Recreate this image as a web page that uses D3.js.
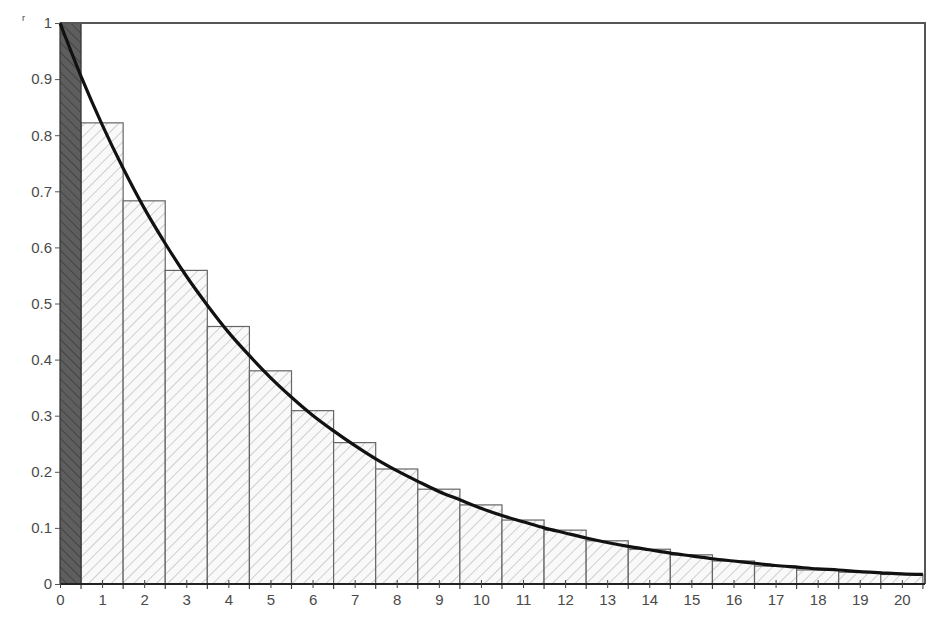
<!DOCTYPE html>
<html>
<head>
<meta charset="utf-8">
<script src="https://cdn.jsdelivr.net/npm/d3@7"></script>
<style>
  body { margin: 0; background: #fff; }
  .tick text { font-family: Arial, "Liberation Sans", sans-serif; font-size: 15px; fill: #4a4a4a; }
</style>
</head>
<body>
<div class="chart"></div>
<script>
// bar values at x = 1..20
var barX = [1,2,3,4,5,6,7,8,9,10,11,12,13,14,15,16,17,18,19,20];
var barY = [0.822,0.683,0.559,0.459,0.380,0.309,0.252,0.205,0.169,0.141,
            0.114,0.096,0.077,0.062,0.052,0.041,0.032,0.025,0.021,0.017];

// first (dark) bar from 0 to 0.5
var firstBar = {x0: 0, x1: 0.5, y: 1};

// curve samples
var curveX = [0,0.5,1,1.5,2,2.5,3,3.5,4,4.5,5,5.5,6,6.5,7,7.5,8,8.5,9,9.5,10,
              10.5,11,11.5,12,12.5,13,13.5,14,14.5,15,15.5,16,16.5,17,17.5,18,18.5,19,19.5,20,20.5];
var curveY = [1.0,0.905,0.819,0.741,0.670,0.607,0.549,0.497,0.449,0.407,0.368,
              0.333,0.301,0.273,0.247,0.223,0.202,0.183,0.165,0.150,0.135,
              0.122,0.111,0.100,0.091,0.082,0.074,0.067,0.061,0.055,0.050,
              0.045,0.041,0.037,0.033,0.030,0.027,0.025,0.022,0.020,0.018,0.017];

var xTicks = d3.range(0, 21);
var yTicks = [0,0.1,0.2,0.3,0.4,0.5,0.6,0.7,0.8,0.9,1];

var svgWidth = 942, svgHeight = 619;
var margin = {top: 23, right: 17, bottom: 35, left: 60};
var width = svgWidth - margin.left - margin.right;
var height = svgHeight - margin.top - margin.bottom;

var svg = d3.select(".chart").append("svg")
    .attr("width", svgWidth).attr("height", svgHeight);

var defs = svg.append("defs");
defs.append("pattern")
    .attr("id", "hatch").attr("patternUnits", "userSpaceOnUse")
    .attr("width", 8).attr("height", 8)
    .attr("patternTransform", "rotate(45)")
  .call(p => {
      p.append("rect").attr("width", 8).attr("height", 8).attr("fill", "#f9f9f9");
      p.append("line").attr("x1", 0).attr("y1", 0).attr("x2", 0).attr("y2", 8)
        .attr("stroke", "#bdbdbd").attr("stroke-width", 1.4);
  });
defs.append("pattern")
    .attr("id", "hatchDark").attr("patternUnits", "userSpaceOnUse")
    .attr("width", 7).attr("height", 7)
    .attr("patternTransform", "rotate(-45)")
  .call(p => {
      p.append("rect").attr("width", 7).attr("height", 7).attr("fill", "#5e5e5e");
      p.append("line").attr("x1", 0).attr("y1", 0).attr("x2", 0).attr("y2", 7)
        .attr("stroke", "#444").attr("stroke-width", 2);
  });

var chartGroup = svg.append("g")
    .attr("transform", `translate(${margin.left}, ${margin.top})`);

var x = d3.scaleLinear().domain([0, 20.55]).range([0, width]);
var y = d3.scaleLinear().domain([0, 1]).range([height, 0]);

// bars
chartGroup.selectAll("rect.bar")
    .data(barX)
    .enter().append("rect")
    .attr("class", "bar")
    .attr("x", (d, i) => x(d - 0.5))
    .attr("y", (d, i) => y(barY[i]))
    .attr("width", x(1) - x(0))
    .attr("height", (d, i) => y(0) - y(barY[i]))
    .attr("fill", "url(#hatch)")
    .attr("stroke", "#666")
    .attr("stroke-width", 1.2);

// bar edges extend below the axis
chartGroup.selectAll("line.edge")
    .data(barX.map(d => d - 0.5).concat([20.5]))
    .enter().append("line")
    .attr("x1", d => x(d)).attr("x2", d => x(d))
    .attr("y1", y(0)).attr("y2", y(0) + 5)
    .attr("stroke", "#444").attr("stroke-width", 1.2);

chartGroup.append("rect")
    .attr("x", x(firstBar.x0)).attr("y", y(firstBar.y))
    .attr("width", x(firstBar.x1) - x(firstBar.x0))
    .attr("height", y(0) - y(firstBar.y))
    .attr("fill", "url(#hatchDark)")
    .attr("stroke", "#333").attr("stroke-width", 1.2);

// frame
chartGroup.append("path")
    .attr("d", `M${x(0)},${y(1)}H${width}V${y(0)}`)
    .attr("fill", "none").attr("stroke", "#555").attr("stroke-width", 2);

// curve
var line = d3.line()
    .x((d, i) => x(curveX[i]))
    .y(d => y(d))
    .curve(d3.curveMonotoneX);

chartGroup.append("path")
    .datum(curveY)
    .attr("d", line)
    .attr("fill", "none")
    .attr("stroke", "#111")
    .attr("stroke-width", 3.2);

// axes
var bottomAxis = d3.axisBottom(x).tickValues(xTicks).tickSize(4).tickPadding(6)
    .tickFormat(d3.format("d"));
var gx = chartGroup.append("g")
    .attr("transform", `translate(0, ${height})`)
    .call(bottomAxis);
gx.select(".domain").attr("d", `M0,0H${width}`).attr("stroke", "#222").attr("stroke-width", 2);
gx.selectAll(".tick line").attr("y1", -4).attr("stroke", "#444");

var leftAxis = d3.axisLeft(y).tickValues(yTicks).tickSize(5).tickPadding(3)
    .tickFormat(d => d === 0 || d === 1 ? d3.format("d")(d) : d3.format(".1f")(d));
var gy = chartGroup.append("g").call(leftAxis);
gy.select(".domain").remove();
gy.selectAll(".tick line").attr("stroke", "#555");

svg.append("text")
    .attr("x", 22).attr("y", 21)
    .attr("font-family", "Arial, sans-serif").attr("font-size", 9).attr("fill", "#444")
    .text("r");
</script>
</body>
</html>
